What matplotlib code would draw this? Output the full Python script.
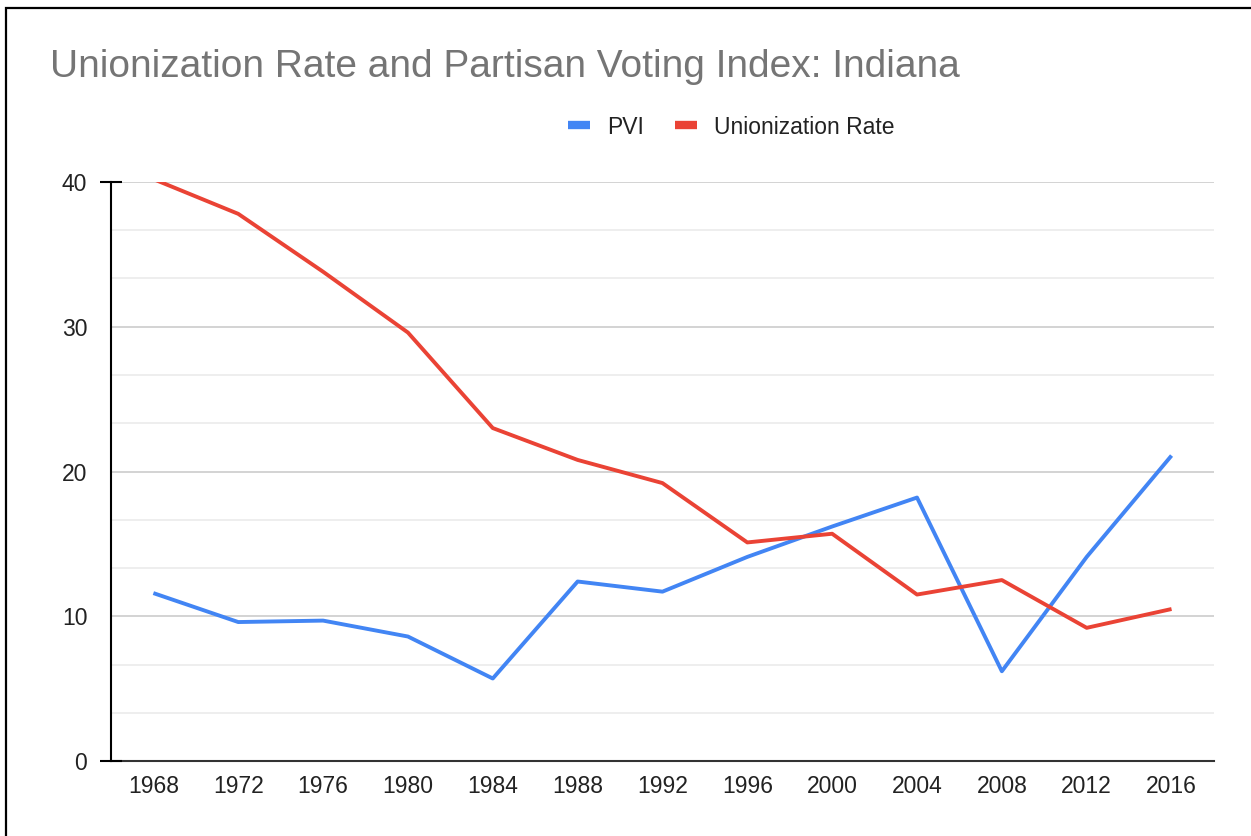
import matplotlib
matplotlib.use("Agg")
import matplotlib.pyplot as plt
import matplotlib.transforms as mtransforms
from matplotlib.lines import Line2D
from matplotlib.patches import Rectangle

plt.rcParams["font.family"] = ["Liberation Sans", "DejaVu Sans"]

years = [1968, 1972, 1976, 1980, 1984, 1988, 1992, 1996, 2000, 2004, 2008, 2012, 2016]
pvi = [11.6, 9.6, 9.7, 8.6, 5.7, 12.4, 11.7, 14.1, 16.2, 18.2, 6.2, 14.1, 21.1]
union_rate = [40.2, 37.8, 33.8, 29.6, 23.0, 20.8, 19.2, 15.1, 15.7, 11.5, 12.5, 9.2, 10.5]
y_major = [0, 10, 20, 30, 40]

BLUE = "#4285f4"
RED = "#ea4335"

fig = plt.figure(figsize=(12.51, 8.36), dpi=100)
ax = fig.add_axes([0.0887, 0.0897, 0.8817, 0.6926])

# outer frame (open on right and bottom edges)
fig.patches.append(Rectangle((6 / 1251, -0.1), 1.2, 1 - 7.5 / 836 + 0.1,
                             transform=fig.transFigure, fill=False,
                             edgecolor="black", linewidth=1.6))

# two faint minor gridlines between each major one
for lo in y_major[:-1]:
    for k in (1, 2):
        ax.axhline(lo + k * 10 / 3, color="#ebebeb", linewidth=1.2, zorder=0)
for y in y_major[1:]:
    ax.axhline(y, color="#cccccc", linewidth=1.2, zorder=0)

ax.plot(years, pvi, color=BLUE, linewidth=2.8, label="PVI", zorder=3,
        solid_capstyle="butt")
ax.plot(years, union_rate, color=RED, linewidth=2.8, label="Unionization Rate",
        zorder=3, solid_capstyle="butt")

ax.set_xlim(1966, 2018)
ax.set_ylim(0, 40)
ax.set_xticks(years)
ax.set_yticks(y_major)
ax.tick_params(axis="x", length=0, pad=10, labelsize=16.5, labelcolor="#222222")
ax.tick_params(axis="y", length=0, pad=17, labelsize=16.5, labelcolor="#222222")

# cross-shaped ticks at the ends of the value axis
edge = mtransforms.blended_transform_factory(ax.transAxes, ax.transData)
for y in (0, 40):
    ax.plot([0], [y], marker="_", markersize=16, markeredgewidth=1.5,
            color="black", transform=edge, clip_on=False, zorder=5)

for side in ("top", "right"):
    ax.spines[side].set_visible(False)
ax.spines["left"].set_color("black")
ax.spines["left"].set_linewidth(1.5)
ax.spines["bottom"].set_color("#333333")
ax.spines["bottom"].set_linewidth(1.5)
ax.spines["bottom"].set_zorder(4)

fig.text(50 / 1251, 1 - 67 / 836, "Unionization Rate and Partisan Voting Index: Indiana",
         fontsize=28, color="#757575", va="center", ha="left")

handles = [Line2D([], [], color=BLUE, linewidth=6, solid_capstyle="butt"),
           Line2D([], [], color=RED, linewidth=6, solid_capstyle="butt")]
fig.legend(handles, ["PVI", "Unionization Rate"], loc="center",
           bbox_to_anchor=(0.5845, 1 - 127 / 836), ncol=2, frameon=False,
           fontsize=16.5, handlelength=0.95, handletextpad=0.74, columnspacing=1.35,
           labelcolor="#222222")

fig.savefig("out.png", dpi=100)
